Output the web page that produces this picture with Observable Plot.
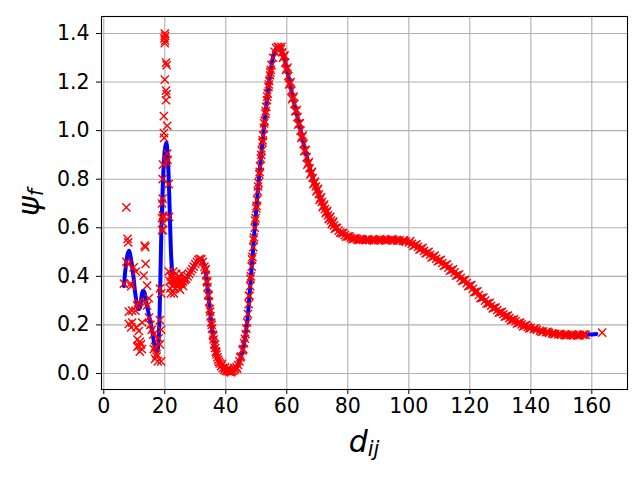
<!DOCTYPE html>
<html><head><meta charset="utf-8">
<script src="https://cdn.jsdelivr.net/npm/d3@7"></script>
<script src="https://cdn.jsdelivr.net/npm/@observablehq/plot@0.6"></script>
<style>body{margin:0;background:#fff}</style>
</head><body><div id="chart"></div>
<script>
// Tick values
const xTicks = [0, 20, 40, 60, 80, 100, 120, 140, 160];
const yTicks = [0.0, 0.2, 0.4, 0.6, 0.8, 1.0, 1.2, 1.4];

// Fitted curve (blue line): [d_ij, psi_f]
const fitLine = [
  [6.6,0.36],[7.2,0.44],[7.8,0.49],[8.3,0.505],[8.8,0.48],[9.3,0.44],[9.8,0.39],[10.3,0.33],[10.8,0.29],[11.3,0.265],
  [11.8,0.27],[12.3,0.31],[12.8,0.34],[13.3,0.335],[13.8,0.30],[14.3,0.27],[14.8,0.24],[15.3,0.21],[15.8,0.18],[16.3,0.14],
  [16.8,0.105],[17.3,0.09],[17.7,0.10],[18.1,0.17],[18.5,0.36],[18.9,0.60],[19.3,0.76],[19.7,0.87],[20.1,0.93],[20.5,0.95],
  [20.9,0.91],[21.3,0.80],[21.7,0.63],[22.1,0.48],[22.5,0.41],[23,0.38],[24,0.37],[25,0.37],[26,0.378],[27,0.39],
  [28,0.41],[29,0.43],[30,0.45],[31,0.468],[32,0.47],[33,0.44],[34,0.355],[35,0.235],[36,0.14],[37,0.078],
  [38,0.041],[39,0.022],[40,0.012],[41,0.008],[42,0.009],[43,0.017],[44,0.035],[45,0.07],[46,0.125],[47,0.21],
  [48,0.36],[49,0.52],[50,0.68],[51,0.82],[52,0.95],[53,1.07],[54,1.18],[55,1.27],[56,1.325],[57,1.345],
  [58,1.335],[59,1.305],[60,1.255],[62,1.135],[64,1.03],[66,0.92],[68,0.825],[70,0.755],[72,0.69],[74,0.64],
  [76,0.60],[78,0.578],[80,0.564],[84,0.551],[88,0.55],[92,0.55],[96,0.55],[100,0.54],[104,0.513],[108,0.481],
  [112,0.446],[116,0.405],[120,0.362],[124,0.311],[128,0.27],[132,0.236],[136,0.208],[140,0.188],[144,0.173],[148,0.163],
  [152,0.159],[156,0.158],[159,0.16],[161.5,0.163]
];

// Data points (red x): scattered region
const noisyMarkers = [
  [6.6,0.37],[7.4,0.684],[7.8,0.554],[8.0,0.54],[7.4,0.46],[8.0,0.45],[8.8,0.37],[9.0,0.36],[9.8,0.437],[10.5,0.42],
  [13.4,0.527],[13.6,0.52],[13.7,0.451],[13.1,0.403],[14.2,0.362],[14.8,0.31],[11.3,0.293],[10.9,0.28],[13.7,0.293],[14.2,0.28],
  [9.3,0.259],[8.2,0.255],[10.4,0.259],[8.2,0.204],[9.3,0.21],[9.0,0.19],[10.7,0.19],[11.5,0.175],[12.6,0.21],[14.8,0.23],
  [11.0,0.14],[11.8,0.13],[11.4,0.115],[11.0,0.11],[11.8,0.09],[12.2,0.12],[12.5,0.10],[15.3,0.2],[15.7,0.18],[16.2,0.16],
  [16.8,0.11],[17.3,0.08],[16.8,0.06],[17.7,0.05],[16.4,0.1],[18.4,0.35],[18.8,0.33],[18.4,0.22],[18.8,0.18],[18.0,0.145],
  [18.4,0.12],[17.3,0.07],[18.8,0.05],[19.1,0.70],[19.1,0.64],[19.4,0.62],[19.1,0.59],[20.0,1.40],[20.1,1.39],[19.9,1.38],
  [20.1,1.37],[20.0,1.36],[20.4,1.28],[20.6,1.27],[20.0,1.21],[20.4,1.165],[20.6,1.15],[20.4,1.125],[19.7,1.06],[20.8,1.02],
  [19.7,0.99],[19.8,0.97],[20.8,0.905],[20.5,0.87],[19.4,0.86],[20.9,0.88],[19.3,0.80],[21.3,0.78],[19.3,0.72],[19.4,0.65],
  [19.7,0.645],[21.4,0.645],[19.4,0.59],[21.3,0.42],[21.6,0.38],[21.8,0.35],[22.2,0.40],[22.5,0.36],[22.8,0.42],[23.1,0.38],
  [23.4,0.35],[23.7,0.41],[24.0,0.39],[24.3,0.36],[24.6,0.40],[25.0,0.345],[25.3,0.38],[25.6,0.41],[26.0,0.36],[26.4,0.39],
  [22.0,0.33],[23.0,0.33]
];

// Data points (red x): smooth part of the curve
const curveMarkers = [
  [22,0.40],[22.5,0.385],[23,0.38],[23.5,0.375],[24,0.37],[24.5,0.37],[25,0.37],[25.5,0.372],[26,0.378],[26.5,0.385],
  [27,0.39],[27.5,0.40],[28,0.41],[28.5,0.42],[29,0.43],[29.5,0.44],[30,0.45],[30.5,0.46],[31,0.468],[31.5,0.472],
  [32,0.47],[32.5,0.46],
  [33,0.44],[33.25,0.425],[33.5,0.405],[33.75,0.38],[34,0.355],[34.25,0.325],[34.5,0.295],[34.75,0.265],[35,0.235],[35.25,0.21],
  [35.5,0.185],[35.75,0.16],[36,0.14],[36.25,0.122],[36.5,0.105],[36.75,0.09],[37,0.078],[37.25,0.066],[37.5,0.056],[37.75,0.048],
  [38,0.041],[38.5,0.03],[39,0.022],[39.5,0.016],[40,0.012],
  [40.5,0.01],[41,0.008],[41.5,0.008],[42,0.009],[42.5,0.012],[43,0.017],[43.5,0.025],[44,0.035],[44.5,0.05],[45,0.07],
  [45.5,0.095],[46,0.125],
  [46.25,0.143],[46.5,0.162],[46.75,0.185],[47,0.21],[47.25,0.245],[47.5,0.285],[47.75,0.32],[48,0.36],[48.25,0.40],[48.5,0.44],
  [48.75,0.48],[49,0.52],[49.25,0.56],[49.5,0.60],[49.75,0.64],[50,0.68],[50.25,0.715],[50.5,0.75],[50.75,0.785],[51,0.82],
  [51.25,0.853],[51.5,0.885],[51.75,0.918],[52,0.95],[52.25,0.98],[52.5,1.01],[52.75,1.04],[53,1.07],[53.25,1.098],[53.5,1.125],
  [53.75,1.153],[54,1.18],[54.25,1.205],[54.5,1.228],[54.75,1.25],[55,1.27],
  [55.5,1.30],[56,1.325],[56.5,1.34],[57,1.345],[57.5,1.343],[58,1.335],[58.5,1.322],[59,1.305],[59.5,1.28],[60,1.255],
  [60.5,1.225],[61,1.195],[61.5,1.165],[62,1.135],[62.5,1.11],[63,1.08],[63.5,1.055],[64,1.03],[64.5,1.0],[65,0.975],
  [65.5,0.945],[66,0.92],[66.5,0.89],[67,0.865],[67.5,0.845],[68,0.825],[68.5,0.805],[69,0.785],[69.5,0.77],[70,0.755],
  [70.5,0.738],[71,0.722],[71.5,0.706],[72,0.69],[72.5,0.677],[73,0.664],[73.5,0.651],[74,0.64],[74.5,0.63],[75,0.62],
  [75.5,0.61],[76,0.60],
  [77,0.588],[78,0.578],[79,0.57],[80,0.564],[81,0.559],[82,0.555],[83,0.553],[84,0.551],[85,0.55],[86,0.55],
  [87,0.549],[88,0.55],[89,0.55],[90,0.549],[91,0.55],[92,0.55],[93,0.549],[94,0.55],[95,0.549],[96,0.549],
  [97,0.548],[98,0.546],[99,0.543],[100,0.54],[101,0.534],[102,0.528],[103,0.521],[104,0.513],[105,0.505],[106,0.497],
  [107,0.489],[108,0.481],[109,0.473],[110,0.465],[111,0.455],[112,0.446],[113,0.436],[114,0.426],[115,0.416],[116,0.405],
  [117,0.394],[118,0.383],[119,0.372],[120,0.362],[121,0.349],[122,0.336],[123,0.323],[124,0.311],[125,0.30],[126,0.289],
  [127,0.279],[128,0.27],[129,0.261],[130,0.252],[131,0.244],[132,0.236],[133,0.228],[134,0.221],[135,0.215],[136,0.208],
  [137,0.202],[138,0.197],[139,0.192],[140,0.188],[141,0.184],[142,0.18],[143,0.176],[144,0.173],[145,0.17],[146,0.167],
  [147,0.165],[148,0.163],[149,0.161],[150,0.16],[151,0.159],[152,0.159],[153,0.158],[154,0.158],[155,0.158],[156,0.158],
  [157,0.159],[158,0.159],[163.4,0.168]
];

// Data points (red x): spread around the smooth part of the curve
const spreadMarkers = [
  [33.4,0.43],[33.9,0.375],[34.4,0.32],[34.9,0.255],[35.4,0.2],[35.9,0.155],[36.4,0.118],[36.9,0.087],
  [38.75,0.04],[39.75,0.025],[40.75,0.02],[41.75,0.004],[42.75,0.022],[43.75,0.02],[44.75,0.066],[45.75,0.1],
  [47.6,0.32],[48.1,0.39],[48.6,0.47],[49.1,0.55],[49.6,0.63],[50.1,0.69],[50.6,0.77],[51.1,0.83],[51.6,0.9],[52.1,0.96],
  [52.6,1.03],[53.1,1.08],[53.6,1.14],[54.1,1.19],[54.6,1.24],
  [58.25,1.345],[58.75,1.30],[59.25,1.31],[59.75,1.25],[60.25,1.26],[60.75,1.19],[61.25,1.2],[61.75,1.13],[62.25,1.14],[62.75,1.08],
  [63.25,1.085],[63.75,1.025],[64.25,1.03],[64.75,0.97],[65.25,0.98],[65.75,0.915],[66.25,0.92],[66.75,0.86],[67.25,0.87],[67.75,0.82],
  [68.25,0.83],[68.75,0.78],[69.25,0.79],[69.75,0.75],[70.25,0.76],[70.75,0.715],[71.25,0.725],[71.75,0.685],[72.25,0.695],[72.75,0.66],
  [73.25,0.67],[73.75,0.635],[74.25,0.645],[74.75,0.615],[75.25,0.625],[75.75,0.595],
  [76.5,0.6],[77.5,0.58],[78.5,0.578],[79.5,0.563],[80.5,0.565],[81.5,0.553],[82.5,0.557],[83.5,0.549],[84.5,0.553],
  [86.5,0.553],[88.5,0.547],[90.5,0.553],[92.5,0.547],[94.5,0.553],[96.5,0.546],[98.5,0.548],
  [100.5,0.545],[101.5,0.525],[102.5,0.532],[103.5,0.510],[104.5,0.517],[105.5,0.494],[106.5,0.501],[107.5,0.478],[108.5,0.485],[109.5,0.462],
  [110.5,0.468],[111.5,0.443],[112.5,0.449],[113.5,0.423],[114.5,0.429],[115.5,0.403],[116.5,0.408],[117.5,0.381],[118.5,0.386],[119.5,0.360],
  [120.5,0.364],[121.5,0.335],[122.5,0.338],[123.5,0.310],[124.5,0.313],[125.5,0.288],[126.5,0.291],[127.5,0.268],[128.5,0.272],[129.5,0.250],
  [130.5,0.254],[131.5,0.234],[132.5,0.238],[133.5,0.219],[134.5,0.223],[135.5,0.205],[136.5,0.21],[137.5,0.194],[138.5,0.199],[139.5,0.186],
  [141.5,0.186],[143.5,0.172],[145.5,0.171],[147.5,0.162],[149.5,0.163],[151.5,0.157],[153.5,0.161],[155.5,0.156],[157.5,0.161]
];

const markers = noisyMarkers.concat(curveMarkers, spreadMarkers);

const chart = Plot.plot({
  width: 640,
  height: 480,
  marginLeft: 101,
  marginRight: 13,
  marginTop: 16,
  marginBottom: 91,
  style: {fontFamily: "DejaVu Sans", fontSize: "20.5px", color: "black", background: "white"},
  x: {domain: [-0.75, 171.7]},
  y: {domain: [-0.066, 1.47]},
  marks: [
    Plot.gridX(xTicks, {stroke: "#b0b0b0", strokeOpacity: 1, strokeWidth: 1.1}),
    Plot.gridY(yTicks, {stroke: "#b0b0b0", strokeOpacity: 1, strokeWidth: 1.1}),
    Plot.line(fitLine, {x: d => d[0], y: d => d[1], stroke: "#0000ff", strokeWidth: 4, curve: "catmull-rom"}),
    Plot.dot(markers, {x: d => d[0], y: d => d[1], symbol: "times", r: 3.8, stroke: "#ff0000", strokeWidth: 1.4}),
    Plot.frame({stroke: "black", strokeWidth: 1.1}),
    Plot.axisX(xTicks, {tickSize: 5, tickPadding: 4, label: null, tickFormat: d => String(d)}),
    Plot.axisY(yTicks, {tickSize: 5, tickPadding: 7, label: null, tickFormat: d3.format(".1f")})
  ]
});

document.getElementById("chart").appendChild(chart);

// Axis titles (math-style with subscripts)
const svg = d3.select(chart);
const xr = chart.scale("x").range;
const yr = chart.scale("y").range;
const xt = svg.append("text")
  .attr("x", (xr[0] + xr[1]) / 2)
  .attr("y", 452)
  .attr("text-anchor", "middle")
  .attr("fill", "black")
  .style("font-family", "DejaVu Sans")
  .style("font-style", "italic");
xt.append("tspan").attr("font-size", 30).text("d");
xt.append("tspan").attr("font-size", 21).attr("dy", 4).text("ij");

const yt = svg.append("text")
  .attr("transform", `translate(39,${(yr[0] + yr[1]) / 2}) rotate(-90)`)
  .attr("text-anchor", "middle")
  .attr("fill", "black")
  .style("font-family", "DejaVu Sans")
  .style("font-style", "italic");
yt.append("tspan").attr("font-size", 30).text("ψ");
yt.append("tspan").attr("font-size", 21).attr("dy", 4).text("f");
</script>
</body></html>
